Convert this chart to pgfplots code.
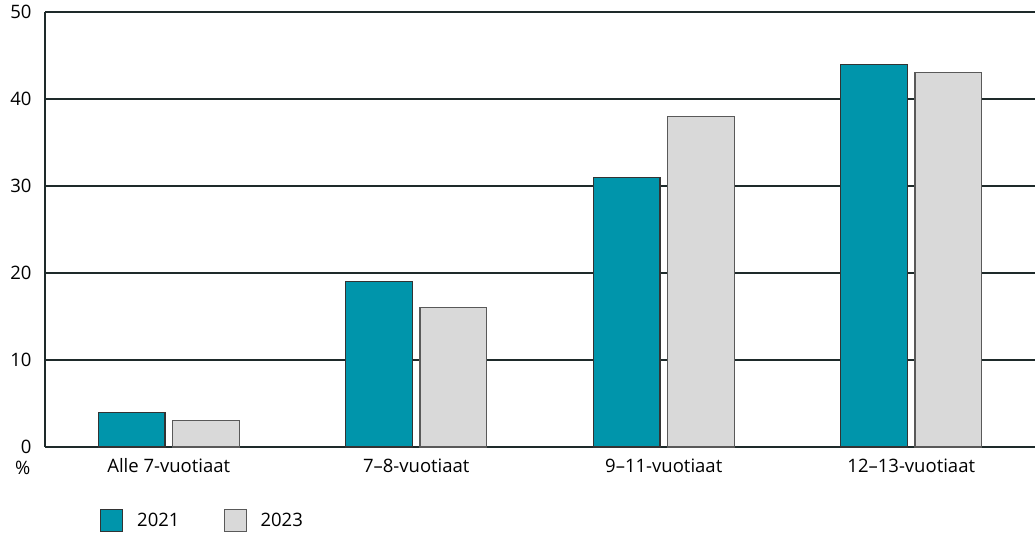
\documentclass[border=0pt]{standalone}
\usepackage{pgfplots}
\pgfplotsset{compat=1.18}
\usepackage{fontspec}
\setmainfont{Open Sans}
\definecolor{teal1}{HTML}{0095AB}
\definecolor{gray1}{HTML}{D9D9D9}
\definecolor{gridc}{HTML}{1E2A2A}
\begin{document}
\begin{tikzpicture}[x=1pt,y=1pt]
\path[use as bounding box] (0,0) rectangle (1035,537);
\begin{axis}[
  at={(45pt,90pt)}, anchor=south west,
  scale only axis, width=990pt, height=435pt,
  xmin=-0.5, xmax=3.5, ymin=0, ymax=50,
  ytick={0,10,20,30,40,50},
  xtick={0,1,2,3},
  xticklabels={Alle 7-vuotiaat,7–8-vuotiaat,9–11-vuotiaat,12–13-vuotiaat},
  major tick length=0pt,
  axis x line*=bottom, axis y line*=left,
  axis line style={gridc, line width=1.2pt},
  ymajorgrids, grid style={gridc, line width=1.2pt},
  ybar, bar width=0.27,
  tick label style={font=\fontsize{18.5}{22}\selectfont, text=black},
  /pgf/number format/assume math mode=true,
  yticklabel style={xshift=-10pt},
  xticklabel style={yshift=-8pt},
  legend style={at={(rel axis cs:0.0556,-0.170)}, anchor=west, draw=none, fill=none, inner sep=0pt,
    font=\fontsize{18.5}{22}\selectfont, legend columns=2,
    /tikz/every even column/.append style={column sep=42pt}},
  legend cell align=left,
  legend image code/.code={\draw[#1, line width=1pt] (0pt,-11pt) rectangle (22pt,11pt);},
  clip=false,
]
\addplot[fill=teal1, draw=black!80, line width=1.1pt, bar shift=-0.15] coordinates {(0,4) (1,19) (2,31) (3,44)};
\addplot[fill=gray1, draw=black!65, line width=1.1pt, bar shift=0.15] coordinates {(0,3) (1,16) (2,38) (3,43)};
\legend{\hspace{12pt}2021,\hspace{12pt}2023}
\draw[black!40, line width=0.8pt] (rel axis cs:1,0) -- (rel axis cs:1,1);
\node[anchor=east, font=\fontsize{18.5}{22}\selectfont] at ([xshift=-11pt,yshift=-21pt]rel axis cs:0,0) {\%};
\end{axis}
\end{tikzpicture}
\end{document}
